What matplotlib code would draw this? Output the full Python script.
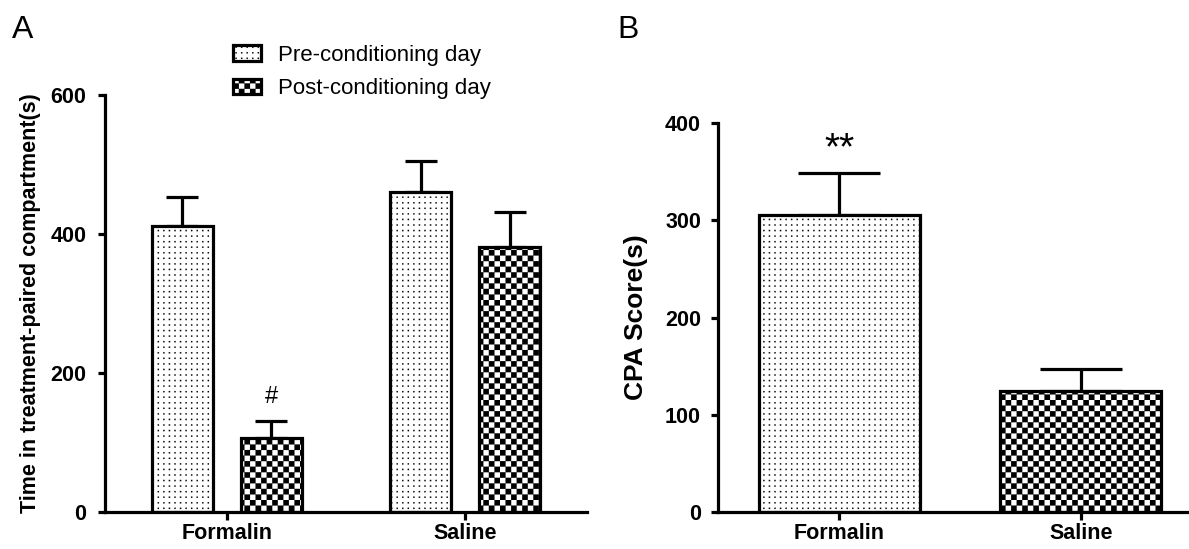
import numpy as np
import matplotlib
matplotlib.use("Agg")
import matplotlib.pyplot as plt
import matplotlib.hatch as mhatch
from matplotlib.path import Path

# ---------------- data ----------------
categories = ["Formalin", "Saline"]
series_labels = ["Pre-conditioning day", "Post-conditioning day"]
pre_means = [411, 461]
pre_sem = [42, 44]
post_means = [106, 381]
post_sem = [25, 50]
cpa_means = [305, 124]
cpa_sem = [44, 23]
yticks_a = [0, 200, 400, 600]
yticks_b = [0, 100, 200, 300, 400]

# ---------------- custom fill textures (checkerboard / fine dots) ----------------
N_CELLS = 18
_orig_get_path = mhatch.get_path


def _squares(centers, size):
    verts, codes = [], []
    for cx, cy in centers:
        h = size / 2
        verts += [(cx - h, cy - h), (cx + h, cy - h), (cx + h, cy + h),
                  (cx - h, cy + h), (cx - h, cy - h)]
        codes += [Path.MOVETO, Path.LINETO, Path.LINETO, Path.LINETO,
                  Path.CLOSEPOLY]
    return Path(np.array(verts, float), np.array(codes, Path.code_type))


def custom_get_path(hatchpattern, density=6):
    if hatchpattern and "+" in hatchpattern:
        c = 1.0 / N_CELLS
        centers = [((i + 0.5) * c, (j + 0.5) * c)
                   for i in range(N_CELLS) for j in range(N_CELLS)
                   if (i + j) % 2 == 0]
        return _squares(centers, c)
    if hatchpattern and "." in hatchpattern:
        c = 1.0 / N_CELLS
        centers = [((i + 0.5) * c, (j + 0.5) * c)
                   for i in range(N_CELLS) for j in range(N_CELLS)]
        return _squares(centers, c * 0.24)
    return _orig_get_path(hatchpattern, density)


mhatch.get_path = custom_get_path
try:
    Path.hatch.cache_clear()
except Exception:
    pass

plt.rcParams["font.family"] = ["Liberation Sans", "DejaVu Sans"]
plt.rcParams["hatch.linewidth"] = 0.1
plt.rcParams["hatch.color"] = "black"

LW = 2.3
fig = plt.figure(figsize=(11.89, 5.49), dpi=100)
W, H = 1189, 549

axA = fig.add_axes([105.2 / W, 1 - 512 / H, 481.6 / W, 417 / H])
axB = fig.add_axes([718.4 / W, 1 - 512 / H, 483.3 / W, 389 / H])


def style(ax, ypad):
    for s in ["top", "right"]:
        ax.spines[s].set_visible(False)
    for s in ["left", "bottom"]:
        ax.spines[s].set_linewidth(LW)
    ax.tick_params(axis="y", direction="out", length=5, width=LW, pad=ypad,
                   labelsize=15.5)
    ax.tick_params(axis="x", direction="out", length=6, width=LW, pad=2,
                   labelsize=15.5)
    for lab in ax.get_xticklabels() + ax.get_yticklabels():
        lab.set_fontweight("bold")


# ---------------- Panel A ----------------
x = np.arange(len(categories))
bw = 0.256
off = 0.187
bars_pre = axA.bar(x - off, pre_means, bw, facecolor="white", edgecolor="black",
                   linewidth=LW, hatch=".", zorder=2, label=series_labels[0])
bars_post = axA.bar(x + off, post_means, bw, facecolor="white", edgecolor="black",
                    linewidth=LW, hatch="+", zorder=2, label=series_labels[1])
axA.errorbar(x - off, pre_means, yerr=[np.zeros(len(pre_sem)), pre_sem], fmt="none",
             ecolor="black", elinewidth=LW, capsize=11.5, capthick=LW, zorder=1)
axA.errorbar(x + off, post_means, yerr=[np.zeros(len(post_sem)), post_sem], fmt="none",
             ecolor="black", elinewidth=LW, capsize=11.5, capthick=LW, zorder=1)
axA.set_xlim(-0.51, 1.51)
axA.set_ylim(0, 600)
axA.set_yticks(yticks_a)
axA.set_xticks(x)
axA.set_xticklabels(categories)
style(axA, 8.5)
axA.set_ylabel("Time in treatment-paired compartment(s)", fontsize=15.5,
               fontweight="bold", labelpad=7)
axA.annotate("#", xy=(x[0] + off, post_means[0] + post_sem[0]), xytext=(0, 17),
             textcoords="offset points", ha="center", va="center", fontsize=17)

leg = fig.legend(handles=[bars_pre, bars_post], labels=series_labels,
                 loc="upper left", bbox_to_anchor=(233 / W, 1 - 45 / H),
                 frameon=False, fontsize=16, handlelength=1.26, handleheight=0.72,
                 handletextpad=0.78, labelspacing=0.55, borderpad=0,
                 borderaxespad=0)

# ---------------- Panel B ----------------
bw_b = 0.667
bars_b = axB.bar(x, cpa_means, bw_b, facecolor="white", edgecolor="black",
                 linewidth=LW, zorder=2)
bars_b[0].set_hatch(".")
bars_b[1].set_hatch("+")
axB.errorbar(x, cpa_means, yerr=[np.zeros(len(cpa_sem)), cpa_sem], fmt="none",
             ecolor="black", elinewidth=LW, capsize=29.5, capthick=LW, zorder=1)
axB.set_xlim(-0.5, 1.5)
axB.set_ylim(0, 400)
axB.set_yticks(yticks_b)
axB.set_xticks(x)
axB.set_xticklabels(categories)
style(axB, 7.5)
axB.set_ylabel("CPA Score(s)", fontsize=19, fontweight="bold", labelpad=12)
axB.annotate("**", xy=(x[0], cpa_means[0] + cpa_sem[0]), xytext=(0, 17),
             textcoords="offset points", ha="center", va="center", fontsize=28)

fig.text(12 / W, 1 - 38 / H, "A", fontsize=23, ha="left", va="baseline")
fig.text(617 / W, 1 - 38 / H, "B", fontsize=23, ha="left", va="baseline")

fig.savefig("out.png", dpi=100)
